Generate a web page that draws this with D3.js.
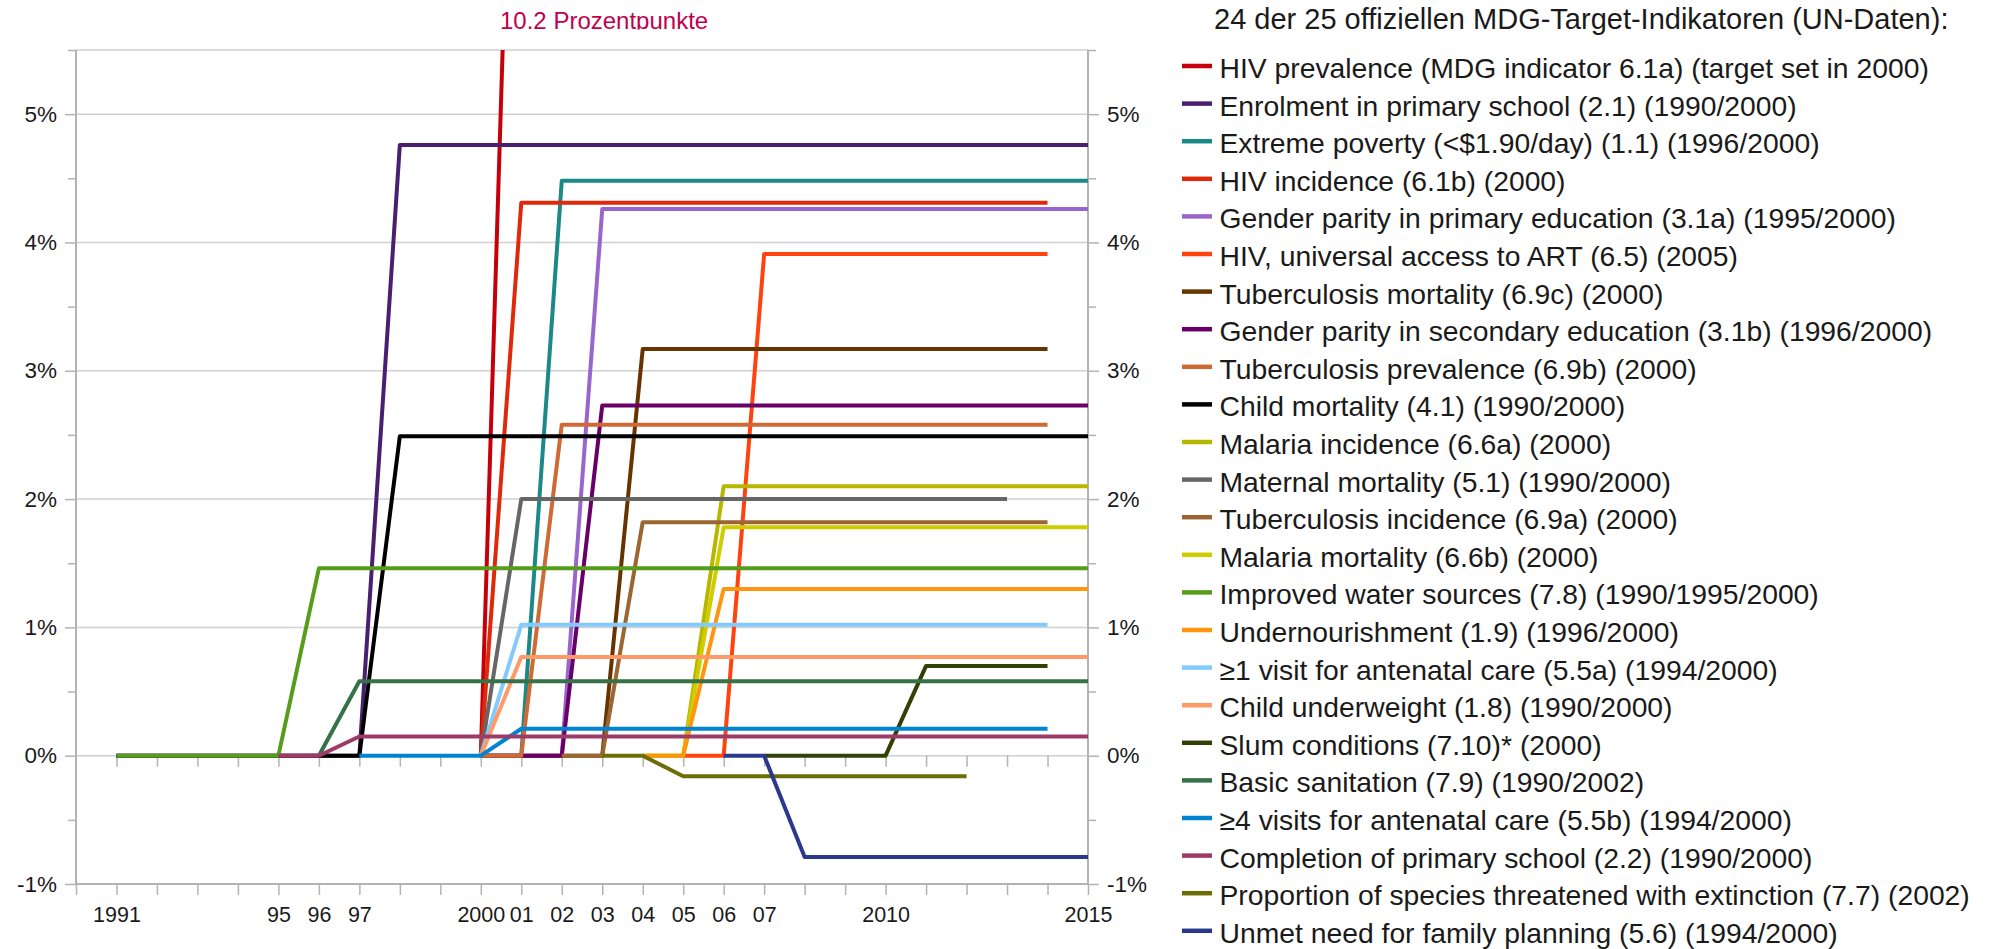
<!DOCTYPE html>
<html lang="de">
<head>
<meta charset="UTF-8">
<title>MDG-Target-Indikatoren</title>
<script src="https://d3js.org/d3.v7.min.js"></script>
<style>
body,html{
  margin:0;
  padding:0;
  background:#fff;
}
text{
  font-family:"Liberation Sans",Arial,sans-serif;
}
</style>
</head>
<body>
<svg width="1989" height="949"></svg>
<script>
// x axis
const tickYears  = [1991, 1995, 1996, 1997, 2000, 2001, 2002, 2003, 2004, 2005, 2006, 2007, 2010, 2015];
const tickLabels = ["1991", "95", "96", "97", "2000", "01", "02", "03", "04", "05", "06", "07", "2010", "2015"];
// y axis (percentage points)
const yTicks = [-1, 0, 1, 2, 3, 4, 5];

const seriesNames = [
  "HIV prevalence (MDG indicator 6.1a) (target set in 2000)",
  "Enrolment in primary school (2.1) (1990/2000)",
  "Extreme poverty (<$1.90/day) (1.1) (1996/2000)",
  "HIV incidence (6.1b) (2000)",
  "Gender parity in primary education (3.1a) (1995/2000)",
  "HIV, universal access to ART (6.5) (2005)",
  "Tuberculosis mortality (6.9c) (2000)",
  "Gender parity in secondary education (3.1b) (1996/2000)",
  "Tuberculosis prevalence (6.9b) (2000)",
  "Child mortality (4.1) (1990/2000)",
  "Malaria incidence (6.6a) (2000)",
  "Maternal mortality (5.1) (1990/2000)",
  "Tuberculosis incidence (6.9a) (2000)",
  "Malaria mortality (6.6b) (2000)",
  "Improved water sources (7.8) (1990/1995/2000)",
  "Undernourishment (1.9) (1996/2000)",
  "\u22651 visit for antenatal care (5.5a) (1994/2000)",
  "Child underweight (1.8) (1990/2000)",
  "Slum conditions (7.10)* (2000)",
  "Basic sanitation (7.9) (1990/2002)",
  "\u22654 visits for antenatal care (5.5b) (1994/2000)",
  "Completion of primary school (2.2) (1990/2000)",
  "Proportion of species threatened with extinction (7.7) (2002)",
  "Unmet need for family planning (5.6) (1994/2000)"
];

// [year, value] points of each series, same order as the names
const seriesPoints = [
  [[2000, 0], [2001, 10.2], [2014, 10.2]],
  [[1991, 0], [1997, 0], [1998, 4.76], [2015, 4.76]],
  [[2000, 0], [2001, 0], [2002, 4.48], [2015, 4.48]],
  [[2000, 0], [2001, 4.31], [2014, 4.31]],
  [[2000, 0], [2002, 0], [2003, 4.26], [2015, 4.26]],
  [[2005, 0], [2006, 0], [2007, 3.91], [2014, 3.91]],
  [[2000, 0], [2003, 0], [2004, 3.17], [2014, 3.17]],
  [[2000, 0], [2002, 0], [2003, 2.73], [2015, 2.73]],
  [[2000, 0], [2001, 0], [2002, 2.58], [2014, 2.58]],
  [[1991, 0], [1997, 0], [1998, 2.49], [2015, 2.49]],
  [[2004, 0], [2005, 0], [2006, 2.10], [2015, 2.10]],
  [[2000, 0], [2001, 2.00], [2013, 2.00]],
  [[2002, 0], [2003, 0], [2004, 1.82], [2014, 1.82]],
  [[2004, 0], [2005, 0], [2006, 1.78], [2015, 1.78]],
  [[1991, 0], [1995, 0], [1996, 1.46], [2015, 1.46]],
  [[2004, 0], [2005, 0], [2006, 1.30], [2015, 1.30]],
  [[2000, 0], [2001, 1.02], [2014, 1.02]],
  [[2000, 0], [2001, 0.77], [2015, 0.77]],
  [[2007, 0], [2010, 0], [2011, 0.70], [2014, 0.70]],
  [[1996, 0], [1997, 0.58], [2015, 0.58]],
  [[1997, 0], [2000, 0], [2001, 0.21], [2014, 0.21]],
  [[1995, 0], [1996, 0], [1997, 0.15], [2015, 0.15]],
  [[2003, 0], [2004, 0], [2005, -0.16], [2012, -0.16]],
  [[2006, 0], [2007, 0], [2008, -0.79], [2015, -0.79]]
];

const seriesColors = [
  "#c5000b", "#4b1f6f", "#1b8a87", "#e0290a", "#9966cc", "#ff420e",
  "#673400", "#680068", "#cf6a35", "#000000", "#b7b700", "#666666",
  "#9c6633", "#cfcc00", "#579d1c", "#ff950e", "#83caff", "#ff9966",
  "#314004", "#377148", "#0084d1", "#9e3a68", "#6d6d05", "#2a398c"
];

const svg = d3.select("svg");
const plotLeft = 76, plotRight = 1088, plotTop = 50, plotBottom = 884;

const x = d3.scaleLinear().domain([1990, 2015]).range([plotLeft, plotRight]);
const y = d3.scaleLinear().domain([-1, 5.5]).range([plotBottom, plotTop]);

// grid
svg.append("g")
  .selectAll("line")
  .data(yTicks.concat([5.5]))
  .join("line")
  .attr("x1", plotLeft).attr("x2", plotRight)
  .attr("y1", d => y(d)).attr("y2", d => y(d))
  .attr("stroke", "#d0d0d0")
  .attr("stroke-width", 1.5);

function styleAxis(g) {
  g.select(".domain").remove();
  g.selectAll("line").attr("stroke", "#b3b3b3").attr("stroke-width", 1.5);
  g.selectAll("text")
    .attr("fill", "#1a1a1a")
    .style("font-family", '"Liberation Sans", Arial, sans-serif');
}

const halfTicks = d3.range(-0.5, 5.6, 1);

// left axis
svg.append("g")
  .attr("transform", `translate(${plotLeft},0)`)
  .call(d3.axisLeft(y).tickValues(yTicks).tickSize(11).tickPadding(8).tickFormat(d => d + "%"))
  .call(styleAxis)
  .selectAll("text").style("font-size", "22.5px");
svg.append("g")
  .attr("transform", `translate(${plotLeft},0)`)
  .call(d3.axisLeft(y).tickValues(halfTicks).tickSize(8).tickFormat(""))
  .call(styleAxis);

// right axis
svg.append("g")
  .attr("transform", `translate(${plotRight},0)`)
  .call(d3.axisRight(y).tickValues(yTicks).tickSize(11).tickPadding(8).tickFormat(d => d + "%"))
  .call(styleAxis)
  .selectAll("text").style("font-size", "22.5px");
svg.append("g")
  .attr("transform", `translate(${plotRight},0)`)
  .call(d3.axisRight(y).tickValues(halfTicks).tickSize(8).tickFormat(""))
  .call(styleAxis);

// bottom axis
svg.append("g")
  .attr("transform", `translate(0,${plotBottom})`)
  .call(d3.axisBottom(x).tickValues(d3.range(1990, 2016)).tickSize(11).tickPadding(12)
    .tickFormat(d => {
      const i = tickYears.indexOf(d);
      return i < 0 ? "" : tickLabels[i];
    }))
  .call(styleAxis)
  .selectAll("text").style("font-size", "21.5px");

// ticks under the zero line
svg.append("g")
  .attr("transform", `translate(0,${y(0)})`)
  .call(d3.axisBottom(x).tickValues(d3.range(1991, 2015)).tickSize(11).tickFormat(""))
  .call(styleAxis);

// axis lines
svg.append("line")
  .attr("x1", plotLeft).attr("x2", plotRight).attr("y1", plotBottom).attr("y2", plotBottom)
  .attr("stroke", "#b3b3b3").attr("stroke-width", 2);
svg.append("line")
  .attr("x1", plotLeft).attr("x2", plotLeft).attr("y1", plotTop).attr("y2", plotBottom)
  .attr("stroke", "#b3b3b3").attr("stroke-width", 2);
svg.append("line")
  .attr("x1", plotRight).attr("x2", plotRight).attr("y1", plotTop).attr("y2", plotBottom)
  .attr("stroke", "#b3b3b3").attr("stroke-width", 2);

// series
svg.append("clipPath").attr("id", "plotclip")
  .append("rect")
  .attr("x", plotLeft).attr("y", plotTop)
  .attr("width", plotRight - plotLeft).attr("height", plotBottom - plotTop);

const line = d3.line()
  .x(d => x(d[0]))
  .y(d => y(d[1]));

svg.append("g")
  .attr("clip-path", "url(#plotclip)")
  .selectAll("path")
  .data(seriesPoints)
  .join("path")
  .attr("d", line)
  .attr("fill", "none")
  .attr("stroke", (d, i) => seriesColors[i])
  .attr("stroke-width", 4)
  .attr("stroke-linejoin", "round");

// annotation for the clipped HIV prevalence line
svg.append("clipPath").attr("id", "noteclip")
  .append("rect").attr("x", 0).attr("y", 0).attr("width", 1000).attr("height", 29.5);
svg.append("text")
  .attr("clip-path", "url(#noteclip)")
  .attr("x", 500).attr("y", 28.5)
  .attr("fill", "#c0004e")
  .style("font-size", "24px")
  .text("10.2 Prozentpunkte");

// legend
svg.append("text")
  .attr("x", 1214).attr("y", 28.5)
  .attr("fill", "#1a1a1a")
  .style("font-size", "29px")
  .text("24 der 25 offiziellen MDG-Target-Indikatoren (UN-Daten):");

const legend = svg.append("g")
  .selectAll("g")
  .data(seriesNames)
  .join("g")
  .attr("transform", (d, i) => `translate(1182,${66 + i * 37.6})`);

legend.append("line")
  .attr("x1", 0).attr("x2", 30)
  .attr("stroke", (d, i) => seriesColors[i])
  .attr("stroke-width", 4.5);

legend.append("text")
  .attr("x", 37.5).attr("y", 12)
  .attr("fill", "#1a1a1a")
  .style("font-size", "28.3px")
  .text(d => d);
</script>
</body>
</html>
